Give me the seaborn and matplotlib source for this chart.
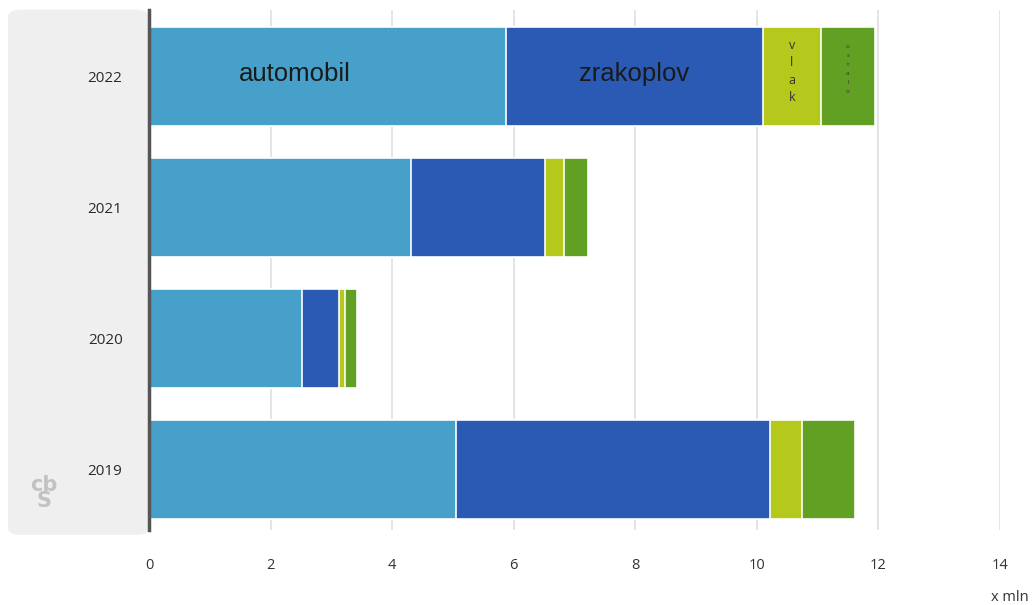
import numpy as np
import pandas as pd
import matplotlib
matplotlib.use("Agg")
import matplotlib.pyplot as plt
from matplotlib.patches import FancyBboxPatch
import seaborn as sns

# data (x mln)
years = ["2022", "2021", "2020", "2019"]
modes = ["automobil", "zrakoplov", "vlak", "ostalo"]
automobil = [5.87, 4.31, 2.52, 5.05]
zrakoplov = [4.23, 2.20, 0.61, 5.16]
vlak = [0.95, 0.32, 0.09, 0.53]
ostalo = [0.89, 0.39, 0.20, 0.87]
colors = ["#47A0C9", "#2A5AB3", "#B4C91C", "#62A024"]


def main():
    df = pd.DataFrame({"year": years, "automobil": automobil, "zrakoplov": zrakoplov,
                       "vlak": vlak, "ostalo": ostalo})
    cum = df[modes].cumsum(axis=1)
    cum["year"] = df["year"]

    sns.set_style("white")
    plt.rcParams["font.family"] = ["Open Sans", "DejaVu Sans"]

    fig = plt.figure(figsize=(10.36, 6.05), dpi=100)
    # grey rounded panel behind the year labels
    panel = FancyBboxPatch((0.0077, 0.116), 0.136, 0.868, boxstyle="round,pad=0,rounding_size=0.012",
                           transform=fig.transFigure, facecolor="#EFEFEF", edgecolor="none", zorder=0)
    fig.patches.append(panel)

    ax = fig.add_axes([0.1438, 0.124, 0.8215, 0.8595])
    ax.set_zorder(2)
    ax.patch.set_alpha(0)

    # stacked bars: draw cumulative totals from the outermost layer inwards
    for mode, col in reversed(list(zip(modes, colors))):
        sns.barplot(data=cum, x=mode, y="year", order=years, color=col, width=0.755,
                    edgecolor="white", linewidth=1.2, saturation=1, ax=ax, zorder=3)

    ax.set_xlim(0, 14)
    ax.set_ylim(3.46, -0.51)
    ax.set_xticks(range(0, 15, 2))
    ax.grid(axis="x", color="#E2E2E2", linewidth=1.3, zorder=0)
    ax.set_xlabel("")
    ax.set_ylabel("")
    for s in ["top", "right", "bottom"]:
        ax.spines[s].set_visible(False)
    ax.spines["left"].set_color("#555555")
    ax.spines["left"].set_linewidth(2.5)
    ax.spines["left"].set_zorder(5)
    ax.tick_params(axis="x", length=6, color="#E2E2E2", width=1.3, pad=14, labelsize=10.5, labelcolor="#333333")
    ax.tick_params(axis="y", length=0, pad=19, labelsize=11, labelcolor="#2a2a2a")

    # labels inside the 2022 bar
    ax.text(2.4, -0.02, "automobil", fontsize=18.5, color="#1a1a1a",
            ha="center", va="center", family=["Liberation Sans", "DejaVu Sans"], zorder=6)
    ax.text(automobil[0] + zrakoplov[0] / 2, -0.02, "zrakoplov", fontsize=18.5, color="#1a1a1a",
            ha="center", va="center", family=["Liberation Sans", "DejaVu Sans"], zorder=6)
    x_vlak = automobil[0] + zrakoplov[0] + vlak[0] / 2
    ax.text(x_vlak, -0.04, "v\nl\na\nk", fontsize=9, color="#333333", ha="center", va="center",
            linespacing=1.45, zorder=6)
    x_ost = automobil[0] + zrakoplov[0] + vlak[0] + ostalo[0] / 2
    ax.text(x_ost, -0.06, "o\ns\nt\na\nl\no", fontsize=4.5, color="#333333", ha="center", va="center",
            linespacing=2.0, zorder=6)

    # cbs logo hint
    fig.text(0.042, 0.185, "cb\nS", fontsize=15, color="#C2C2C2", ha="center", va="center",
             linespacing=0.75, fontweight="bold", family=["DejaVu Sans"])

    fig.text(0.975, 0.0, "x mln", fontsize=10.5, color="#333333", ha="center", va="bottom")

    fig.savefig("out.png", dpi=100)


if __name__ == "__main__":
    main()
